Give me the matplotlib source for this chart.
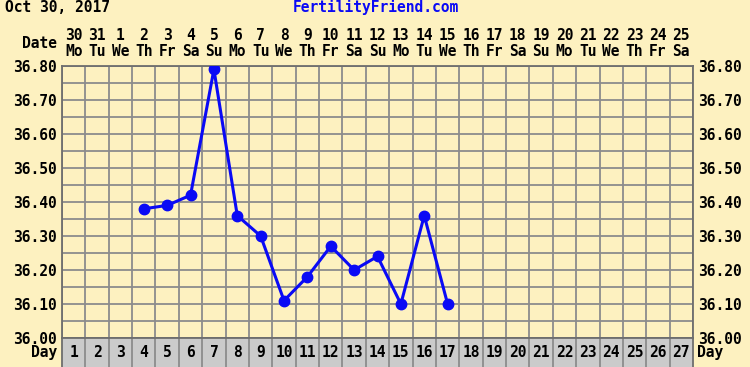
import matplotlib
matplotlib.use("Agg")
import matplotlib.pyplot as plt
import matplotlib.transforms as mtransforms
import numpy as np

# cycle data
cycle_days = list(range(1, 28))
dates = ["30", "31", "1", "2", "3", "4", "5", "6", "7", "8", "9", "10", "11", "12",
         "13", "14", "15", "16", "17", "18", "19", "20", "21", "22", "23", "24", "25"]
weekdays = ["Mo", "Tu", "We", "Th", "Fr", "Sa", "Su", "Mo", "Tu", "We", "Th", "Fr", "Sa", "Su",
            "Mo", "Tu", "We", "Th", "Fr", "Sa", "Su", "Mo", "Tu", "We", "Th", "Fr", "Sa"]
temp_days = [4, 5, 6, 7, 8, 9, 10, 11, 12, 13, 14, 15, 16, 17]
temps = [36.38, 36.39, 36.42, 36.79, 36.36, 36.30, 36.11, 36.18, 36.27, 36.20, 36.24, 36.10, 36.36, 36.10]

bg = "#fdf1c0"
grid_col = "#8c8c8c"
blue = "#0a0af5"

plt.rcParams["font.family"] = "DejaVu Sans Mono"
plt.rcParams["font.weight"] = "bold"
plt.rcParams["font.size"] = 10.5

W, H = 750, 367
fig = plt.figure(figsize=(W / 100, H / 100), dpi=100, facecolor=bg)

# temperature grid
ax = fig.add_axes([62 / W, 29 / H, 631 / W, 272 / H], facecolor=bg)
ax.set_xlim(0.5, 27.5)
ax.set_ylim(36.0, 36.8)
ax.set_xticks(np.arange(0.5, 28, 1))
ax.set_xticklabels([])
ax.set_yticks(np.arange(36.0, 36.81, 0.1))
ax.set_yticks(np.arange(36.05, 36.8, 0.1), minor=True)
ax.set_yticklabels([f"{v:.2f}" for v in np.arange(36.0, 36.81, 0.1)])
ax.tick_params(which="both", length=0, labelleft=True, labelright=True, pad=4)
ax.tick_params(axis="x", length=0)
ax.grid(True, which="both", color=grid_col, linewidth=1.3)
ax.set_axisbelow(True)
for s in ax.spines.values():
    s.set_color("#6e6e6e")
    s.set_linewidth(1.3)

ax.plot(temp_days, temps, color=blue, linewidth=2.2, marker="o", markersize=7.5, zorder=5)

# date header above the grid
tr = mtransforms.blended_transform_factory(ax.transData, fig.transFigure)
for d, num, wd in zip(cycle_days, dates, weekdays):
    ax.text(d, (H - 36) / H, num, transform=tr, ha="center", va="center")
    ax.text(d, (H - 52) / H, wd, transform=tr, ha="center", va="center")
fig.text(57 / W, (H - 44) / H, "Date", ha="right", va="center")
fig.text(5 / W, (H - 7) / H, "Oct 30, 2017", ha="left", va="center")
fig.text(376 / W, (H - 7) / H, "FertilityFriend.com", ha="center", va="center", color=blue)

# cycle day row
ax_day = fig.add_axes([62 / W, 0, 631 / W, 29 / H], facecolor="#cbcbcb")
ax_day.set_xlim(0.5, 27.5)
ax_day.set_ylim(0, 1)
ax_day.set_xticks([])
ax_day.set_yticks([])
ax_day.vlines(np.arange(1.5, 27.5, 1), 0, 1, color=grid_col, linewidth=1.3)
for d in cycle_days:
    ax_day.text(d, 0.5, str(d), ha="center", va="center")
ax_day.spines["bottom"].set_visible(False)
for s in ["left", "right", "top"]:
    ax_day.spines[s].set_color("#6e6e6e")
    ax_day.spines[s].set_linewidth(1.3)
fig.text(57 / W, 14 / H, "Day", ha="right", va="center")
fig.text(697 / W, 14 / H, "Day", ha="left", va="center")

fig.savefig("out.png", dpi=100, facecolor=bg)
